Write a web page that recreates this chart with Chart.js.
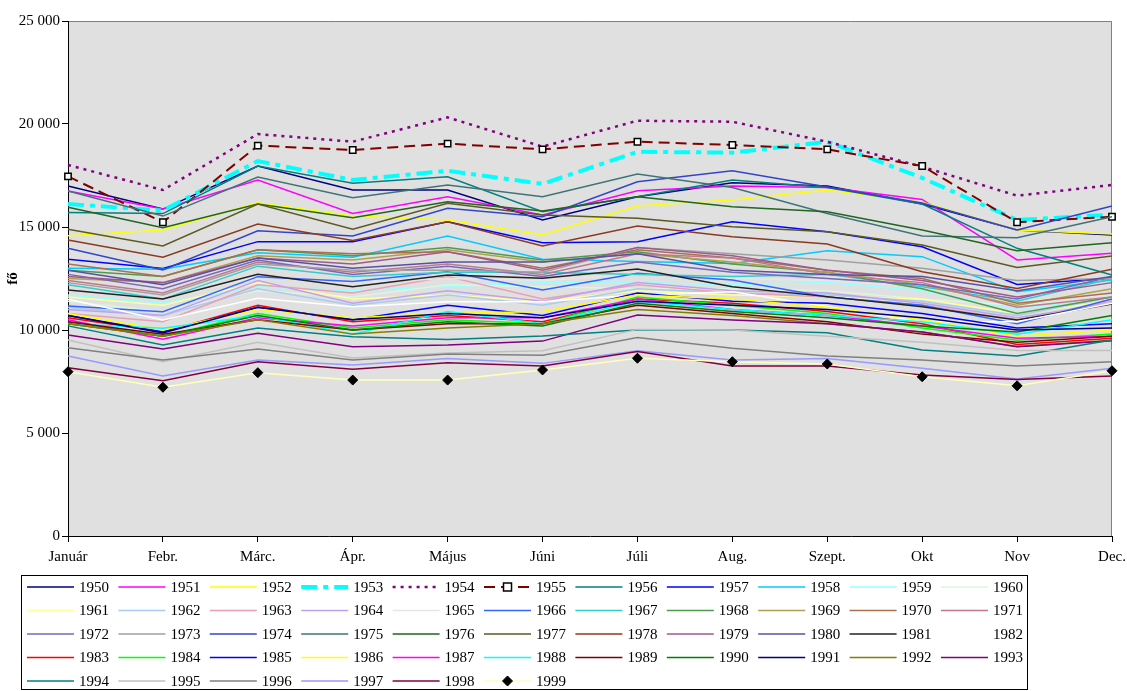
<!DOCTYPE html>
<html>
<head>
<meta charset="utf-8">
<script src="https://cdn.jsdelivr.net/npm/chart.js@4"></script>
<style>
html,body{margin:0;padding:0;background:#fff;}
#wrap{width:1127px;height:691px;position:relative;}
</style>
</head>
<body>
<div id="wrap"><canvas id="c" width="1127" height="691"></canvas></div>
<script>
const months = ["Január","Febr.","Márc.","Ápr.","Május","Júni","Júli","Aug.","Szept.","Okt","Nov","Dec."];
const years = [];
for (let y = 1950; y <= 1999; y++) years.push(String(y));
const yTicks = [0, 5000, 10000, 15000, 20000, 25000];

const s1950 = [16990,15870,17960,16800,16800,15340,16470,17150,16990,16120,14850,14610];
const s1951 = [16750,15870,17280,15660,16470,15580,16760,16990,16920,16340,13400,13720];
const s1952 = [14580,14850,16180,15530,15340,14610,16020,16310,16800,16200,14850,14660];
const s1953 = [16115,15800,18200,17280,17730,17090,18650,18610,19140,17380,15340,15600];
const s1954 = [18010,16795,19513,19140,20320,18900,20160,20110,19140,17925,16520,17040];
const s1955 = [17460,15230,18950,18740,19045,18770,19140,18980,18770,17960,15230,15500];
const s1956 = [15700,15650,17960,17120,17440,15740,16470,17280,16920,16115,13965,12670];
const s1957 = [13430,12990,14290,14290,15255,14240,14290,15255,14770,14040,12210,12510];
const s1958 = [13000,12950,13750,13530,14560,13430,13320,13230,13850,13560,11860,12430];
const s1959 = [11700,11300,12100,11900,12100,12300,12300,12200,12300,11900,11000,11600];
const s1960 = [11400,10900,11900,11600,12200,12100,12000,12000,11900,11500,11200,11500];
const s1961 = [11600,11200,12300,11500,11700,11400,11900,11700,11600,11500,10800,11400];
const s1962 = [11100,10700,12000,11200,11700,11200,12000,11800,11700,11400,10700,11600];
const s1963 = [10800,10400,12200,11800,12600,11500,12200,11800,11600,11200,10500,11400];
const s1964 = [11000,10700,12400,11300,11900,11400,12300,11900,11800,11300,10600,11300];
const s1965 = [11900,11500,12600,12300,12500,12400,12700,12500,12400,12100,11400,11700];
const s1966 = [11160,10890,12590,12350,12830,11940,12750,12430,11600,11200,10300,11500];
const s1967 = [12200,11500,13100,12600,12800,12800,12700,12600,12700,12100,11400,12500];
const s1968 = [12900,12600,13900,13600,14000,13400,13800,13200,12800,12000,10800,11600];
const s1969 = [12500,12300,13600,13400,13900,13300,13700,13300,12800,12200,11200,12000];
const s1970 = [13200,12600,13900,13700,13800,13000,13900,13500,12900,12500,11300,11800];
const s1971 = [12400,11800,13300,12800,13200,12700,13700,13500,12700,12300,11100,11600];
const s1972 = [12700,12000,13400,12700,13100,12600,13300,12800,12500,12200,11500,12600];
const s1973 = [12300,11700,13200,12900,12900,12800,14000,13700,13400,13000,12400,12500];
const s1974 = [13965,12910,14820,14560,15905,15500,17200,17730,16940,16160,14850,16020];
const s1975 = [16750,15530,17430,16420,17040,16470,17570,16920,15660,14560,14480,15500];
const s1976 = [15955,14970,16115,15450,16230,15780,16470,15985,15740,14850,13850,14240];
const s1977 = [14890,14080,16115,14890,16150,15580,15420,15015,14770,14125,13040,13590];
const s1978 = [14370,13530,15145,14340,15255,14080,15050,14530,14170,12830,12020,12950];
const s1979 = [12600,12300,13500,13200,13800,12900,14000,13600,12900,12400,11600,12300];
const s1980 = [12900,12200,13500,13000,13300,13300,13700,12900,12700,12600,11900,12600];
const s1981 = [11940,11500,12700,12100,12670,12510,12960,12100,11620,11130,10480,11260];
const s1982 = [11490,10485,11540,11130,11370,11370,11700,11860,11130,10400,10400,11300];
const s1983 = [10600,9900,11200,10400,10700,10400,11500,11300,10900,10300,9300,9600];
const s1984 = [10400,9700,10800,10100,10500,10300,11600,11200,10800,10100,9500,9800];
const s1985 = [10700,9900,11100,10500,11200,10700,11800,11400,11300,10800,10100,10300];
const s1986 = [10800,10000,11000,10600,10800,10900,11700,11500,11100,10500,9700,10000];
const s1987 = [10500,9550,10600,10200,10600,10600,11500,11000,10700,10200,9600,9700];
const s1988 = [10300,10080,10700,9800,10900,10300,11400,11000,10700,10400,9800,10500];
const s1989 = [10400,9800,10500,10000,10300,10300,11200,10800,10400,9800,9400,9700];
const s1990 = [10300,9700,10700,10000,10400,10200,11300,10900,10600,10200,9900,10700];
const s1991 = [10700,9850,11100,10500,10800,10600,11400,11200,11000,10600,10000,10100];
const s1992 = [10300,9700,10500,9800,10100,10300,11000,10700,10300,9900,9200,9500];
const s1993 = [9760,9080,9840,9190,9270,9460,10730,10480,10300,9900,9190,9480];
const s1994 = [10200,9270,10100,9670,9540,9710,10000,10000,9870,9030,8740,9510];
const s1995 = [9510,8460,9400,8640,8880,8990,10030,10000,9700,9400,9000,9000];
const s1996 = [9140,8540,9080,8540,8830,8770,9630,9110,8740,8540,8250,8460];
const s1997 = [8740,7770,8540,8300,8620,8380,8990,8540,8620,8140,7620,8140];
const s1998 = [8170,7540,8460,8090,8410,8250,8950,8250,8250,7810,7600,7770];
const s1999 = [7975,7220,7930,7570,7570,8060,8630,8460,8350,7730,7290,8020];

const seriesValues = [s1950,s1951,s1952,s1953,s1954,s1955,s1956,s1957,s1958,s1959,
  s1960,s1961,s1962,s1963,s1964,s1965,s1966,s1967,s1968,s1969,
  s1970,s1971,s1972,s1973,s1974,s1975,s1976,s1977,s1978,s1979,
  s1980,s1981,s1982,s1983,s1984,s1985,s1986,s1987,s1988,s1989,
  s1990,s1991,s1992,s1993,s1994,s1995,s1996,s1997,s1998,s1999];

const colors = ["#000080","#FF00FF","#FFFF00","#00FFFF","#800080","#800000","#008080","#0000FF","#00CCFF","#99FFFF",
  "#DDF5DD","#FFFF99","#A8CCF0","#E8A0B8","#C0A0F0","#E6E6E6","#3366FF","#33CCCC","#4E9A4E","#AFA050",
  "#A87050","#C07890","#7868B8","#A0A0A0","#3344CC","#3E7478","#1F661F","#5C5A20","#8B3A20","#A05890",
  "#5A50A0","#222222","#FFFFFF","#FF0000","#00FF00","#0000FF","#FFFF00","#FF00FF","#00FFFF","#800000",
  "#008000","#000080","#808000","#800080","#008080","#C0C0C0","#808080","#9999FF","#800040","#FFFFBB"];

const FONT = "'Liberation Serif', 'Times New Roman', serif";

const datasets = years.map((y, i) => {
  const ds = {
    label: y,
    data: seriesValues[i],
    borderColor: colors[i],
    backgroundColor: colors[i],
    borderWidth: 1.5,
    pointRadius: 0,
    tension: 0,
    fill: false,
    order: years.length - i
  };
  if (y === "1953") { ds.borderWidth = 4; ds.borderDash = [16,6,5,6]; }
  if (y === "1954") { ds.borderWidth = 2.5; ds.borderDash = [3,5]; }
  if (y === "1955") {
    ds.borderWidth = 2; ds.borderDash = [11,6];
    ds.pointStyle = 'rect'; ds.pointRadius = 4.5;
    ds.pointBackgroundColor = '#FFFFFF'; ds.pointBorderColor = '#000000'; ds.pointBorderWidth = 1.5;
  }
  if (y === "1999") {
    ds.pointStyle = 'rectRot'; ds.pointRadius = 5;
    ds.pointBackgroundColor = '#000000'; ds.pointBorderColor = '#000000'; ds.pointBorderWidth = 1;
  }
  return ds;
});

const bgPlugin = {
  id: 'bg',
  beforeDraw(chart) {
    const a = chart.chartArea, ctx = chart.ctx;
    ctx.save();
    ctx.fillStyle = '#E0E0E0';
    ctx.fillRect(a.left, a.top, a.right - a.left, a.bottom - a.top);
    ctx.strokeStyle = '#808080';
    ctx.lineWidth = 1;
    ctx.beginPath();
    ctx.moveTo(a.left, a.top + 0.5);
    ctx.lineTo(a.right - 0.5, a.top + 0.5);
    ctx.lineTo(a.right - 0.5, a.bottom);
    ctx.stroke();
    ctx.restore();
  }
};

const legendPlugin = {
  id: 'boxLegend',
  afterDraw(chart) {
    const ctx = chart.ctx;
    ctx.save();
    ctx.fillStyle = '#FFFFFF';
    ctx.fillRect(21, 575, 1007, 115);
    ctx.strokeStyle = '#000000';
    ctx.lineWidth = 1;
    ctx.strokeRect(21.5, 575.5, 1006, 114);
    const pitch = 91.4;
    chart.data.datasets.forEach((ds, i) => {
      const col = i % 11, row = Math.floor(i / 11);
      const x0 = 27 + col * pitch;
      const y = 587 + row * 23.5;
      ctx.save();
      ctx.strokeStyle = ds.borderColor;
      ctx.lineWidth = ds.borderWidth;
      ctx.setLineDash(ds.borderDash || []);
      ctx.beginPath();
      ctx.moveTo(x0, y);
      ctx.lineTo(x0 + 47, y);
      ctx.stroke();
      ctx.setLineDash([]);
      if (ds.pointStyle) {
        const cx = x0 + 23.5;
        ctx.fillStyle = ds.pointBackgroundColor;
        ctx.strokeStyle = ds.pointBorderColor;
        ctx.lineWidth = ds.pointBorderWidth;
        ctx.beginPath();
        if (ds.pointStyle === 'rect') {
          ctx.rect(cx - 4, y - 4, 8, 8);
        } else {
          ctx.moveTo(cx, y - 5); ctx.lineTo(cx + 5, y); ctx.lineTo(cx, y + 5); ctx.lineTo(cx - 5, y); ctx.closePath();
        }
        ctx.fill(); ctx.stroke();
      }
      ctx.restore();
      ctx.fillStyle = '#000000';
      ctx.font = "15px " + FONT;
      ctx.textBaseline = 'middle';
      ctx.textAlign = 'left';
      ctx.fillText(ds.label, x0 + 52, y + 1);
    });
    ctx.restore();
  }
};

const fmt = v => String(v).replace(/\B(?=(\d{3})+(?!\d))/g, ' ');

new Chart(document.getElementById('c'), {
  type: 'line',
  data: { labels: months, datasets },
  options: {
    responsive: false,
    animation: false,
    events: [],
    layout: { padding: { left: 0, right: 15, top: 21, bottom: 125 } },
    plugins: { legend: { display: false }, tooltip: { enabled: false }, title: { display: false } },
    scales: {
      x: {
        type: 'category',
        offset: false,
        grid: { display: true, drawOnChartArea: false, drawTicks: true, tickLength: 6, color: '#000000' },
        border: { display: true, color: '#000000', width: 1 },
        ticks: { color: '#000000', font: { family: FONT, size: 15 }, padding: 6, maxRotation: 0, autoSkip: false },
        afterFit(scale) { scale.height = 30; scale.paddingLeft = 0; scale.paddingRight = 0; }
      },
      y: {
        min: 0, max: 25000,
        afterBuildTicks(scale) { scale.ticks = yTicks.map(v => ({ value: v })); },
        grid: { display: true, drawOnChartArea: false, drawTicks: true, tickLength: 6, color: '#000000' },
        border: { display: true, color: '#000000', width: 1 },
        ticks: { color: '#000000', font: { family: FONT, size: 15 }, padding: 2, callback: v => fmt(v) },
        title: { display: true, text: 'fő', color: '#000000', font: { family: FONT, size: 15, weight: 'bold' }, padding: { top: 4, bottom: 0 } },
        afterFit(scale) { scale.width = 68; scale.paddingTop = 0; scale.paddingBottom = 0; }
      }
    }
  },
  plugins: [bgPlugin, legendPlugin]
});
</script>
</body>
</html>
